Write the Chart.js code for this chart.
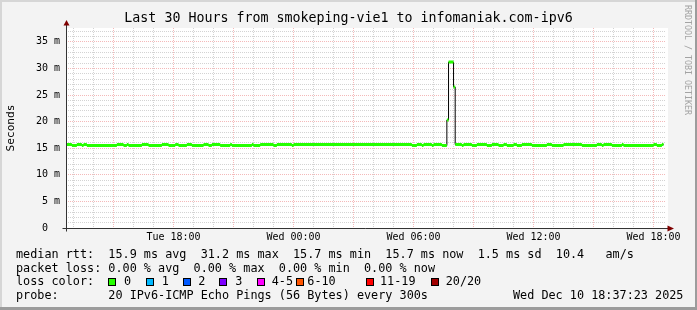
<!DOCTYPE html>
<html>
<head>
<meta charset="utf-8">
<script src="https://cdn.jsdelivr.net/npm/chart.js@4.4.1/dist/chart.umd.min.js"></script>
<style>
  html, body { margin: 0; padding: 0; background: #f3f3f3; }
  #frame { position: relative; width: 697px; height: 310px; overflow: hidden; }
  #frame canvas { position: absolute; left: 0; top: 0; }
  .edge { position: absolute; }
  .txt { position: absolute; font: 11.8px "DejaVu Sans Mono", monospace; line-height: 14px; white-space: pre; color: #000; }
  .box { position: absolute; width: 8px; height: 8px; box-sizing: border-box; border: 1px solid #000; top: 278px; }
  #rrd { position: absolute; left: 692.8px; top: 5px; transform-origin: 0 0; transform: rotate(90deg);
         font: 8.3px "DejaVu Sans Mono", monospace; line-height: 10px; white-space: pre; color: #a3a3a3; }
</style>
</head>
<body>
<div id="frame">
  <canvas id="c" width="697" height="310"></canvas>
  <div class="edge" style="left:0;top:0;width:697px;height:2px;background:#d6d6d6"></div>
  <div class="edge" style="left:0;top:0;width:2px;height:310px;background:#d6d6d6"></div>
  <div class="edge" style="left:695px;top:0;width:2px;height:310px;background:#9c9c9c"></div>
  <div class="edge" style="left:0;top:307px;width:697px;height:3px;background:#9c9c9c"></div>
  <div id="rrd">RRDTOOL / TOBI OETIKER</div>
  <div class="txt" style="left:16px;top:246.6px">median rtt:  15.9 ms avg  31.2 ms max  15.7 ms min  15.7 ms now  1.5 ms sd  10.4   am/s</div>
  <div class="txt" style="left:16px;top:260.5px">packet loss: 0.00 % avg  0.00 % max  0.00 % min  0.00 % now</div>
  <div class="txt" style="left:16px;top:274.4px">loss color:</div>
  <div class="txt" style="left:16px;top:288.2px">probe:       20 IPv6-ICMP Echo Pings (56 Bytes) every 300s</div>
  <div class="txt" style="left:513px;top:288.2px">Wed Dec 10 18:37:23 2025</div>
</div>
<script>
// minutes since Tue 00:00
const tStart = 757.4;   // Tue 12:37:23
const tEnd = 2557.4;    // Wed 18:37:23

// end of each 5 min step block and its median rtt (ms)
const segEnd = [775, 790, 805, 810, 820, 910, 930, 940, 945, 985, 1005, 1045, 1065, 1085, 1095, 1120,
  1135, 1170, 1185, 1195, 1220, 1250, 1255, 1315, 1320, 1340, 1380, 1390, 1435, 1440, 1795, 1810,
  1825, 1830, 1855, 1860, 1885, 1900, 1905, 1920, 1925, 1945, 1950, 1975, 1990, 2020, 2035, 2055,
  2070, 2080, 2100, 2110, 2125, 2155, 2200, 2215, 2250, 2305, 2350, 2365, 2370, 2395, 2425, 2430,
  2520, 2530, 2545, 2550];
const median = [15.7, 15.5, 15.7, 15.5, 15.7, 15.5, 15.7, 15.5, 15.7, 15.5, 15.7, 15.5, 15.7, 15.5, 15.7, 15.5,
  15.7, 15.5, 15.7, 15.5, 15.7, 15.5, 15.7, 15.5, 15.7, 15.5, 15.7, 15.5, 15.7, 15.5, 15.7, 15.5,
  15.7, 15.5, 15.7, 15.5, 15.7, 15.5, 20.3, 31.2, 26.5, 15.7, 15.5, 15.7, 15.5, 15.7, 15.5, 15.7,
  15.5, 15.7, 15.5, 15.7, 15.5, 15.7, 15.5, 15.7, 15.5, 15.7, 15.5, 15.7, 15.5, 15.7, 15.5, 15.7,
  15.5, 15.7, 15.5, 15.7];

const xTickValues = [1080, 1440, 1800, 2160, 2520];
const xTickLabels = ['Tue 18:00', 'Wed 00:00', 'Wed 06:00', 'Wed 12:00', 'Wed 18:00'];
const yTickValues = [0, 5, 10, 15, 20, 25, 30, 35];
const yTickLabels = ['0  ', '5 m', '10 m', '15 m', '20 m', '25 m', '30 m', '35 m'];

const lossLabels = ['0', '1', '2', '3', '4-5', '6-10', '11-19', '20/20'];
const lossColors = ['#26ff00', '#00b8ff', '#0059ff', '#7e00ff', '#ff00ff', '#ff5500', '#ff0000', '#a10000'];
const lossBoxX = [108, 146, 183, 219, 257, 296, 366, 431];
const lossLabelX = [124, 161.7, 198.3, 235.3, 271.7, 307.3, 380, 445.7];

// legend boxes
const frameEl = document.getElementById('frame');
lossLabels.forEach((l, i) => {
  const b = document.createElement('div');
  b.className = 'box';
  b.style.left = lossBoxX[i] + 'px';
  b.style.background = lossColors[i];
  frameEl.appendChild(b);
  const t = document.createElement('div');
  t.className = 'txt';
  t.style.left = lossLabelX[i] + 'px';
  t.style.top = '274.4px';
  t.textContent = l;
  frameEl.appendChild(t);
});

// black step line + green horizontal pieces
const blackPts = [{x: tStart, y: median[0]}].concat(segEnd.map((t, i) => ({x: t, y: median[i]})));
const greenPts = [];
segEnd.forEach((t, i) => {
  const from = i === 0 ? tStart : segEnd[i - 1];
  greenPts.push({x: from, y: median[i]}, {x: t, y: median[i]}, {x: t, y: null});
});

const hourTicks = [];
for (let m = Math.ceil(tStart / 60) * 60; m <= tEnd; m += 60) hourTicks.push(m);
const msTicks = [];
for (let v = 0; v <= 37; v++) msTicks.push(v);

const minorGrid = 'rgba(140,140,140,0.38)';
const majorGrid = 'rgba(225,70,70,0.38)';

const framePlugin = {
  id: 'framePlugin',
  beforeDraw(chart) {
    const {ctx, chartArea: a} = chart;
    ctx.save();
    ctx.fillStyle = '#fff';
    ctx.fillRect(a.left, a.top, a.right - a.left + 2, a.bottom - a.top);
    ctx.restore();
  },
  afterDatasetsDraw(chart) {
    const {ctx, chartArea: a} = chart;
    const x0 = Math.round(a.left) + 0.5, y0 = Math.round(a.bottom) + 0.5;
    ctx.save();
    ctx.strokeStyle = '#333';
    ctx.lineWidth = 1;
    ctx.beginPath();
    ctx.moveTo(x0 - 4, y0); ctx.lineTo(a.right + 2, y0);
    ctx.moveTo(x0, y0 + 3); ctx.lineTo(x0, a.top - 3);
    ctx.stroke();
    ctx.fillStyle = '#7f0000';
    ctx.beginPath();
    ctx.moveTo(x0, a.top - 8); ctx.lineTo(x0 - 3, a.top - 2.5); ctx.lineTo(x0 + 3, a.top - 2.5);
    ctx.closePath(); ctx.fill();
    ctx.beginPath();
    ctx.moveTo(a.right + 8, y0); ctx.lineTo(a.right + 1.5, y0 - 3); ctx.lineTo(a.right + 1.5, y0 + 3);
    ctx.closePath(); ctx.fill();
    ctx.restore();
  }
};

Chart.defaults.font.family = "'DejaVu Sans Mono', monospace";
Chart.defaults.color = '#000';

new Chart(document.getElementById('c'), {
  type: 'line',
  data: {
    datasets: [
      {data: blackPts, borderColor: '#000', borderWidth: 1, stepped: 'after', pointRadius: 0, order: 2},
      {data: greenPts, borderColor: '#26ff00', borderWidth: 3, borderCapStyle: 'butt', pointRadius: 0,
       spanGaps: false, tension: 0, order: 1}
    ]
  },
  options: {
    responsive: false, animation: false, devicePixelRatio: 1, events: [],
    layout: {padding: {left: 0, right: 0, top: 0, bottom: 62}},
    plugins: {
      legend: {display: false},
      tooltip: {enabled: false},
      title: {
        display: true,
        text: 'Last 30 Hours from smokeping-vie1 to infomaniak.com-ipv6',
        color: '#000',
        font: {size: 13.3, weight: 'normal', lineHeight: 1},
        padding: {top: 12, bottom: 2.7}
      }
    },
    scales: {
      x: {
        type: 'linear', min: tStart, max: tEnd,
        afterBuildTicks: s => { s.ticks = hourTicks.map(v => ({value: v})); },
        afterFit: s => { s.height = 20; },
        grid: {color: c => (c.tick && c.tick.value % 180 === 0) ? majorGrid : minorGrid, drawTicks: false},
        border: {display: false, dash: [1, 1]},
        ticks: {
          autoSkip: false, maxRotation: 0, padding: 3.5, font: {size: 10},
          callback: v => { const i = xTickValues.indexOf(v); return i < 0 ? '' : xTickLabels[i]; }
        }
      },
      y: {
        min: 0, max: 37.6,
        afterBuildTicks: s => { s.ticks = msTicks.map(v => ({value: v})); },
        afterFit: s => { s.width = 66; },
        grid: {color: c => (c.tick && c.tick.value % 5 === 0) ? majorGrid : minorGrid, drawTicks: false},
        border: {display: false, dash: [1, 1]},
        title: {display: true, text: 'Seconds', font: {size: 11.2}, padding: {top: 4, bottom: 0}},
        ticks: {
          autoSkip: false, padding: 6, font: {size: 10},
          callback: v => { const i = yTickValues.indexOf(v); return i < 0 ? '' : yTickLabels[i]; }
        }
      },
      // empty right-hand strip so the plot ends where the reference does
      yRight: {
        position: 'right', min: 0, max: 37.6,
        afterFit: s => { s.width = 31; },
        grid: {display: false, drawTicks: false},
        border: {display: false},
        ticks: {display: false}
      }
    }
  },
  plugins: [framePlugin]
});
</script>
</body>
</html>
